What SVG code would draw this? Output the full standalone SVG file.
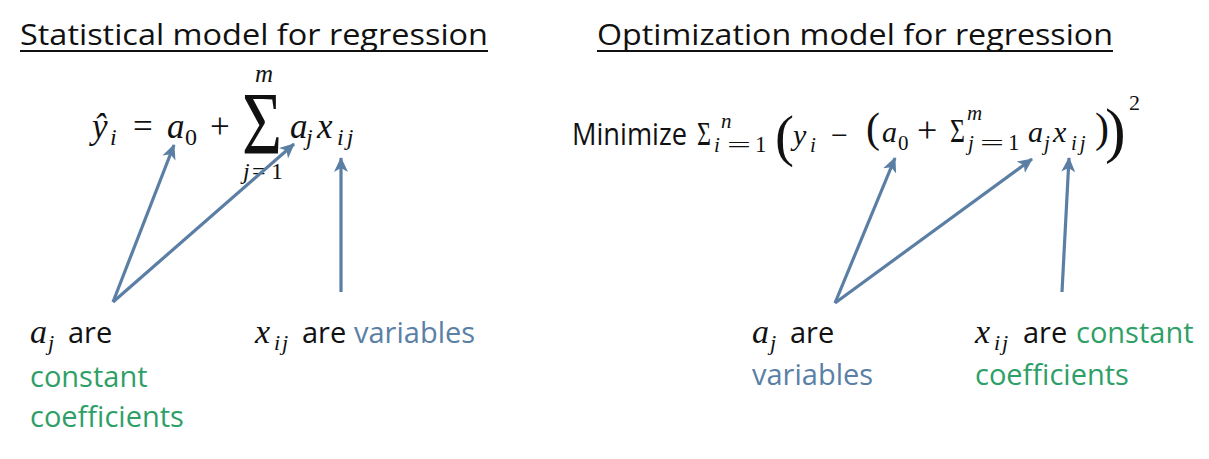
<svg xmlns="http://www.w3.org/2000/svg" width="1209" height="459" viewBox="0 0 1209 459">
<defs>
<style>
.t{font-family:"Open Sans","Liberation Sans",sans-serif;fill:#111}
.title{font-size:30px}
.lbl{font-size:29px}
.g{fill:#2f9f68}
.b{fill:#5b80a6}
.m{font-family:"Liberation Serif","DejaVu Serif",serif;fill:#111}
.mi{font-style:italic}
.ul{stroke:#111;stroke-width:2}
.arr{stroke:#5b7fa4;stroke-width:3.2;fill:none;marker-end:url(#ah)}
</style>
<marker id="ah" markerUnits="userSpaceOnUse" markerWidth="18" markerHeight="16" refX="14" refY="7" orient="auto">
<path d="M0,0 L15,7 L0,14 L4,7 z" fill="#5b7fa4"/>
</marker>
</defs>
<rect width="1209" height="459" fill="#fff"/>

<g id="title-left">
<text class="t title" x="20" y="45" textLength="468" lengthAdjust="spacingAndGlyphs">Statistical model for regression</text>
<line class="ul" x1="20" y1="51" x2="488" y2="51"/>
</g>
<g id="title-right">
<text class="t title" x="597" y="45" textLength="516" lengthAdjust="spacingAndGlyphs">Optimization model for regression</text>
<line class="ul" x1="597" y1="51" x2="1113" y2="51"/>
</g>

<g id="eq-left">
<text class="m mi" x="92" y="138" font-size="35">ŷ</text>
<text class="m mi" x="110" y="145" font-size="24">i</text>
<text class="m" x="133" y="138" font-size="35">=</text>
<text class="m mi" x="167" y="138" font-size="35">a</text>
<text class="m" x="185" y="145" font-size="24">0</text>
<text class="m" x="210" y="138" font-size="35">+</text>
<text class="m" x="242" y="153" font-size="88" textLength="40" lengthAdjust="spacingAndGlyphs">Σ</text>
<text class="m mi" x="255" y="82" font-size="25">m</text>
<text class="m mi" x="243" y="179" font-size="24">j</text>
<text class="m" x="252" y="179" font-size="24">=</text>
<text class="m" x="271" y="179" font-size="24">1</text>
<text class="m mi" x="290" y="138" font-size="35">a</text>
<text class="m mi" x="306" y="145" font-size="24">j</text>
<text class="m mi" x="317" y="138" font-size="35">x</text>
<text class="m mi" x="337" y="145" font-size="24" letter-spacing="3">ij</text>
</g>

<g id="eq-right">
<text class="t" x="572" y="145" font-size="31" textLength="115" lengthAdjust="spacingAndGlyphs">Minimize</text>
<text class="m" x="697" y="145" font-size="34" textLength="14" lengthAdjust="spacingAndGlyphs">Σ</text>
<text class="m mi" x="721" y="128" font-size="21">n</text>
<text class="m mi" x="714" y="152" font-size="21">i</text>
<text class="m" x="727" y="152" font-size="21" textLength="24" lengthAdjust="spacingAndGlyphs">=</text>
<text class="m" x="755" y="152" font-size="23">1</text>
<text class="m" x="775" y="155" font-size="57">(</text>
<text class="m mi" x="793" y="145" font-size="30">y</text>
<text class="m mi" x="810" y="152" font-size="21">i</text>
<text class="m" x="831" y="145" font-size="30">−</text>
<text class="m" x="866" y="142" font-size="42">(</text>
<text class="m mi" x="882" y="142" font-size="30">a</text>
<text class="m" x="898" y="150" font-size="21">0</text>
<text class="m" x="917" y="142" font-size="36">+</text>
<text class="m" x="950" y="142" font-size="34" textLength="15" lengthAdjust="spacingAndGlyphs">Σ</text>
<text class="m mi" x="967" y="120" font-size="21">m</text>
<text class="m mi" x="968" y="150" font-size="21">j</text>
<text class="m" x="980" y="150" font-size="21" textLength="24" lengthAdjust="spacingAndGlyphs">=</text>
<text class="m" x="1008" y="150" font-size="23">1</text>
<text class="m mi" x="1028" y="142" font-size="30">a</text>
<text class="m mi" x="1044" y="150" font-size="21">j</text>
<text class="m mi" x="1053" y="142" font-size="30">x</text>
<text class="m mi" x="1071" y="150" font-size="21" letter-spacing="3">ij</text>
<text class="m" x="1095" y="142" font-size="42">)</text>
<text class="m" x="1105" y="151" font-size="62">)</text>
<text class="m" x="1129" y="110" font-size="22">2</text>
</g>

<g id="label-aj-left">
<text class="m mi" x="30" y="343" font-size="34">a</text>
<text class="m mi" x="48" y="350" font-size="22">j</text>
<text class="t lbl" x="68" y="343">are</text>
<text class="t lbl g" x="30" y="387">constant</text>
<text class="t lbl g" x="30" y="427">coefficients</text>
</g>
<g id="label-xij-left">
<text class="m mi" x="255" y="343" font-size="34">x</text>
<text class="m mi" x="274" y="350" font-size="22" letter-spacing="2">ij</text>
<text class="t lbl" x="302" y="343">are</text>
<text class="t lbl b" x="354" y="343">variables</text>
</g>
<g id="label-aj-right">
<text class="m mi" x="752" y="343" font-size="34">a</text>
<text class="m mi" x="770" y="350" font-size="22">j</text>
<text class="t lbl" x="790" y="343">are</text>
<text class="t lbl b" x="752" y="385">variables</text>
</g>
<g id="label-xij-right">
<text class="m mi" x="975" y="343" font-size="34">x</text>
<text class="m mi" x="994" y="350" font-size="22" letter-spacing="2">ij</text>
<text class="t lbl" x="1023" y="343">are</text>
<text class="t lbl g" x="1076" y="343">constant</text>
<text class="t lbl g" x="975" y="385">coefficients</text>
</g>

<g id="connectors">
<line class="arr" x1="113" y1="302" x2="174" y2="145"/>
<line class="arr" x1="113" y1="302" x2="294" y2="144"/>
<line class="arr" x1="341" y1="292" x2="341" y2="158"/>
<line class="arr" x1="835" y1="303" x2="895" y2="158"/>
<line class="arr" x1="835" y1="303" x2="1032" y2="159"/>
<line class="arr" x1="1062" y1="292" x2="1069" y2="158"/>
</g>
</svg>
